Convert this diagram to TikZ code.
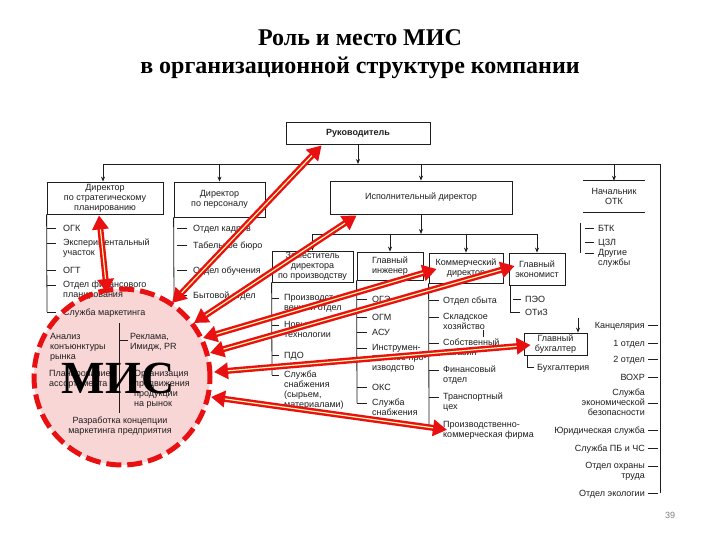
\documentclass[tikz,border=0pt]{standalone}
\usepackage{fontspec}
\setmainfont{Liberation Serif}
\setsansfont{Liberation Sans}
\usetikzlibrary{arrows.meta,calc}
\definecolor{misred}{RGB}{232,16,16}
\definecolor{mispink}{RGB}{249,214,214}
\definecolor{inkc}{RGB}{30,30,30}
\definecolor{glow}{RGB}{255,248,170}
\begin{document}
\begin{tikzpicture}[x=1pt,y=-1pt,
  every node/.style={font=\sffamily\fontsize{9}{10}\selectfont, text=inkc},
  obox/.style={draw=inkc, line width=0.8pt, inner sep=1pt, align=center},
  ln/.style={draw=inkc, line width=0.8pt},
  arr/.style={ln, -{Stealth[length=5pt,width=4pt]}},
  itm/.style={anchor=north west, inner sep=0pt, align=left, execute at begin node=\strut},
  itmr/.style={anchor=north east, inner sep=0pt, align=right, execute at begin node=\strut},
  titl/.style={font=\rmfamily\bfseries\fontsize{24}{28}\selectfont, text=black, anchor=base},
  misarrow/.style={draw=misred, line width=6pt, {Triangle[length=14pt,width=16pt]}-{Triangle[length=14pt,width=16pt]}},
  misglow/.style={draw=glow, line width=1.2pt, shorten <=14pt, shorten >=14pt},
]
\useasboundingbox (0,0) rectangle (720,540);
\fill[white] (0,0) rectangle (720,540);

% title
\node[titl] (t1) at (360,46) {Роль и место МИС};
\node[titl] (t2) at (360,74) {в организационной структуре компании};

% MIS circle fill
\fill[mispink] (122,377) circle[radius=88pt];

% boxes
\node[obox, minimum width=144pt, minimum height=22pt, font=\sffamily\bfseries\fontsize{9}{10}\selectfont] (ruk) at (358,133) {Руководитель};
\node[obox, minimum width=116pt, minimum height=32pt] (dstrat) at (105,198) {Директор\\по стратегическому\\планированию};
\node[obox, minimum width=91pt, minimum height=35pt] (dpers) at (219.5,199.5) {Директор\\по персоналу};
\node[obox, minimum width=182pt, minimum height=33pt] (isp) at (421,197.5) {Исполнительный директор};
\node[inner sep=0pt, minimum width=62pt, minimum height=31pt, align=center] (otk) at (614,196.5) {Начальник\\ОТК};
\draw[ln] (otk.north west) -- (otk.north east);
\draw[ln] (otk.south west) -- (otk.south east);
\node[obox, minimum width=81pt, minimum height=31pt, inner sep=0pt] (zam) at (312.5,266.5) {Заместитель\\директора\\по производству};
\node[obox, minimum width=66pt, minimum height=28pt] (ging) at (390,266) {Главный\\инженер};
\node[obox, minimum width=74pt, minimum height=30pt] (kom) at (466,268) {Коммерческий\\директор};
\node[obox, minimum width=56pt, minimum height=32pt] (gecon) at (537,269) {Главный\\экономист};
\node[obox, minimum width=63pt, minimum height=22pt] (gbuh) at (555.5,344) {Главный\\бухгалтер};

% top bus
\coordinate (bL) at (103,164);
\coordinate (bR) at (660,164);
\coordinate (rb) at (660,493);
\draw[ln] (bL) -- (bR) -- (rb);
\draw[arr] (ruk.south) -- (ruk.south |- bL);
\draw[arr] (bL) -- (bL |- dstrat.north);
\draw[arr] (dpers.north |- bL) -- (dpers.north);
\draw[arr] (isp.north |- bL) -- (isp.north);
\draw[arr] (otk.north |- bL) -- (otk.north);

% second bus
\coordinate (b2L) at (312.5,234);
\coordinate (b2R) at (537,234);
\draw[arr] (isp.south) -- (isp.south |- b2L);
\draw[ln] (b2L) -- (b2R);
\draw[arr] (b2L) -- (zam.north);
\draw[arr] (ging.north |- b2L) -- (ging.north);
\draw[arr] (kom.north |- b2L) -- (kom.north);
\draw[arr] (b2R) -- (gecon.north);

% strategic planning list
\draw[ln] (dstrat.south west) -- (47,312);
\foreach \yy in {228,243,270,285,312} \draw[ln] (47,\yy) -- (56,\yy);
\node[itm] (s1) at (63,224) {ОГК};
\node[itm] (s2) at (63,239) {Экспериментальный\\участок};
\node[itm] (s3) at (63,266) {ОГТ};
\node[itm] (s4) at (63,281) {Отдел финансового\\планирования};
\node[itm] (s5) at (63,308) {Служба маркетинга};

% personnel list
\draw[ln] (dpers.south west) -- (174,298);
\foreach \yy in {228,245,270,295} \draw[ln] (177,\yy) -- (187,\yy);
\node[itm] (p1) at (193,224) {Отдел кадров};
\node[itm] (p2) at (193,241) {Табельное бюро};
\node[itm] (p3) at (193,266) {Отдел обучения};
\node[itm] (p4) at (193,291) {Бытовой отдел};

% deputy production list
\draw[ln] (zam.south west) -- (272,375);
\foreach \yy in {298,325,355,375} \draw[ln] (272,\yy) -- (279,\yy);
\node[itm] (z1) at (284,294) {Производст-\\венный отдел};
\node[itm] (z2) at (284,321) {Новые\\технологии};
\node[itm] (z3) at (284,351) {ПДО};
\node[itm] (z4) at (284,371) {Служба\\снабжения\\(сырьем,\\материалами)};

% chief engineer list
\draw[ln] (ging.south west) -- (357,403);
\foreach \yy in {299,317,332,348,387,403} \draw[ln] (357,\yy) -- (367,\yy);
\node[itm] (g1) at (372,295) {ОГЭ};
\node[itm] (g2) at (372,313) {ОГМ};
\node[itm] (g3) at (372,328) {АСУ};
\node[itm] (g4) at (372,344) {Инструмен-\\тальное про-\\изводство};
\node[itm] (g5) at (372,383) {ОКС};
\node[itm] (g6) at (372,399) {Служба\\снабжения};

% commercial director list
\draw[ln] (kom.south west) -- (429,425);
\foreach \yy in {300,317,343,370,397,425} \draw[ln] (429,\yy) -- (439,\yy);
\draw[ln] (483,330) -- (483,337);
\node[itm] (k1) at (443,296) {Отдел сбыта};
\node[itm] (k2) at (443,313) {Складское\\хозяйство};
\node[itm] (k3) at (443,339) {Собственный\\магазин};
\node[itm] (k4) at (443,366) {Финансовый\\отдел};
\node[itm] (k5) at (443,393) {Транспортный\\цех};
\node[itm] (k6) at (443,421) {Производственно-\\коммерческая фирма};

% chief economist list
\draw[ln] (510,285) -- (510,312) -- (520,312);
\draw[ln] (513,299) -- (521,299);
\node[itm] (e1) at (525,295) {ПЭО};
\node[itm] (e2) at (525,308) {ОТиЗ};

% OTK list
\draw[ln] (580,223) -- (580,253);
\foreach \yy in {228,242,253} \draw[ln] (585,\yy) -- (594,\yy);
\node[itm] (o1) at (598,224) {БТК};
\node[itm] (o2) at (598,238) {ЦЗЛ};
\node[itm] (o3) at (598,249) {Другие\\службы};

% chief accountant
\coordinate (gbt) at (578,318);
\draw[arr] (gbt) -- (gbt |- gbuh.north);
\draw[ln] (527,355) -- (527,367) -- (534,367);
\node[itm] (b1) at (537,363) {Бухгалтерия};

% right list
\foreach \yy in {325,343,359,377,403,430,448,466,493} \draw[ln] (648,\yy) -- (658,\yy);
\node[itmr] (r1) at (645,321) {Канцелярия};
\node[itmr] (r2) at (645,339) {1 отдел};
\node[itmr] (r3) at (645,355) {2 отдел};
\node[itmr] (r4) at (645,373) {ВОХР};
\node[itmr] (r5) at (645,389) {Служба\\экономической\\безопасности};
\node[itmr] (r6) at (645,426) {Юридическая служба};
\node[itmr] (r7) at (645,444) {Служба ПБ и ЧС};
\node[itmr] (r8) at (645,462) {Отдел охраны\\труда};
\node[itmr] (r9) at (645,489) {Отдел экологии};

% page number
\node[text=gray, font=\sffamily\fontsize{9}{10}\selectfont] (pg) at (670,515) {39};

% MIS circle border
\draw[misred, line width=5pt, dash pattern=on 15pt off 6pt] (122,377) circle[radius=88pt];

% MIS contents
\draw[ln] (119,323) -- (119,413);
\draw[ln] (119,340) -- (128,340);
\node[itm] (m1) at (50,333) {Анализ\\конъюнктуры\\рынка};
\node[itm] (m2) at (130,333) {Реклама,\\Имидж, PR};
\node[itm] (m3) at (49,370) {Планирование\\ассортимента};
\node[itm] (m4) at (134,370) {Организация\\продвижения\\продукции\\на рынок};
\node[anchor=north, inner sep=0pt, align=center, execute at begin node=\strut] (m5) at (120,417) {Разработка концепции\\маркетинга предприятия};
\node[font=\rmfamily\bfseries\fontsize{46}{46}\selectfont, text=black, inner sep=0pt] (mis) at (118,378) {МИС};

% red arrows
\coordinate (a1s) at (107,293);
\coordinate (a1t) at ($(dstrat.south)+(-6,1)$);
\coordinate (a2s) at (172,303);
\coordinate (a2t) at ($(ruk.south west)+(36,1)$);
\coordinate (a3s) at (194,323);
\coordinate (a3t) at ($(isp.south west)+(27,1)$);
\coordinate (a4s) at (203,338);
\coordinate (a4t) at ($(kom.west)+(8,1)$);
\coordinate (a5s) at (210,353);
\coordinate (a5t) at ($(gecon.west)+(6,-3)$);
\coordinate (a6s) at (214,372);
\coordinate (a6t) at ($(gbuh.west)+(7,1)$);
\coordinate (a7s) at (211,397);
\coordinate (a7t) at ($(k6.west)+(4,-1)$);
\foreach \i in {1,...,7} {
  \draw[misarrow] (a\i s) -- (a\i t);
  \draw[misglow] (a\i s) -- (a\i t);
}
\end{tikzpicture}
\end{document}
